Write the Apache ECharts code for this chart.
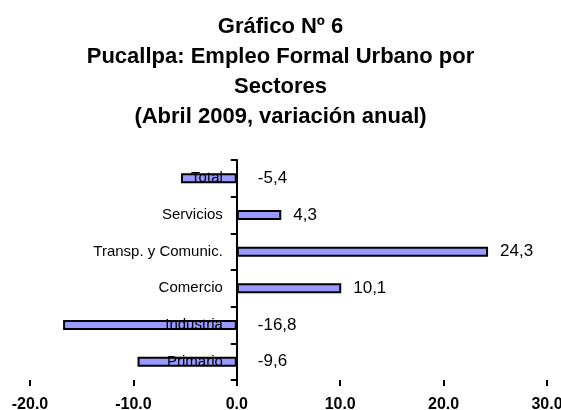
<!DOCTYPE html>
<html>
<head>
<meta charset="utf-8">
<script src="https://cdn.jsdelivr.net/npm/echarts@6/dist/echarts.min.js"></script>
<style>
  html, body { margin: 0; padding: 0; background: #fff; }
  #chart { width: 561px; height: 410px; }
</style>
</head>
<body>
<div id="chart"></div>
<script>
// categories from bottom to top (category axis runs upward)
const sectores = ["Primario", "Industria", "Comercio", "Transp. y Comunic.", "Servicios", "Total"];
const variacion = [-9.6, -16.8, 10.1, 24.3, 4.3, -5.4];
const xTicks = [-20, -10, 0, 10, 20, 30];

const chart = echarts.init(document.getElementById("chart"));
const font = "'Liberation Sans', Arial, sans-serif";

const gridLeft = 30;
const gridRight = 14;
const xMin = xTicks[0];
const xMax = xTicks[xTicks.length - 1];
// shift the category axis so it sits on x = 0
const plotWidth = 561 - gridLeft - gridRight;
const zeroOffset = -plotWidth * (0 - xMin) / (xMax - xMin);

const option = {
  backgroundColor: "#fff",
  animation: false,
  title: {
    text: "Gráfico Nº 6\nPucallpa: Empleo Formal Urbano por\nSectores\n(Abril 2009, variación anual)",
    left: "center",
    top: 12,
    padding: [0, 0, 0, 7],
    textStyle: {
      fontFamily: font,
      fontSize: 22,
      fontWeight: "bold",
      color: "#000",
      lineHeight: 30,
      align: "center",
    },
  },
  grid: {
    left: gridLeft,
    right: gridRight,
    top: 160,
    bottom: 30,
    containLabel: false,
    outerBoundsMode: "none",
  },
  xAxis: {
    type: "value",
    min: xMin,
    max: xMax,
    interval: 10,
    axisLine: { lineStyle: { color: "#000", width: 2 } },
    axisTick: { show: true, length: 6, lineStyle: { color: "#000", width: 2 } },
    splitLine: { show: false },
    axisLabel: {
      margin: 17,
      color: "#000",
      fontFamily: font,
      fontSize: 16,
      fontWeight: "bold",
      formatter: (v) => v.toFixed(1),
    },
  },
  yAxis: {
    type: "category",
    data: sectores,
    z: 3,
    offset: zeroOffset,
    axisLine: { onZero: false, lineStyle: { color: "#000", width: 2 } },
    axisTick: { show: true, length: 6, lineStyle: { color: "#000", width: 2 } },
    axisLabel: {
      margin: 14,
      color: "#000",
      fontFamily: font,
      fontSize: 15,
    },
  },
  series: [
    {
      type: "bar",
      data: variacion.map((v) => ({
        value: v,
        label: { distance: v < 0 ? 21 : 12 },
      })),
      barWidth: 10,
      itemStyle: {
        color: "#9999FF",
        borderColor: "#000",
        borderWidth: 2,
      },
      label: {
        show: true,
        position: "right",
        color: "#000",
        fontFamily: font,
        fontSize: 17,
        formatter: (p) => String(p.value).replace(".", ","),
      },
    },
  ],
};

chart.setOption(option);
</script>
</body>
</html>
